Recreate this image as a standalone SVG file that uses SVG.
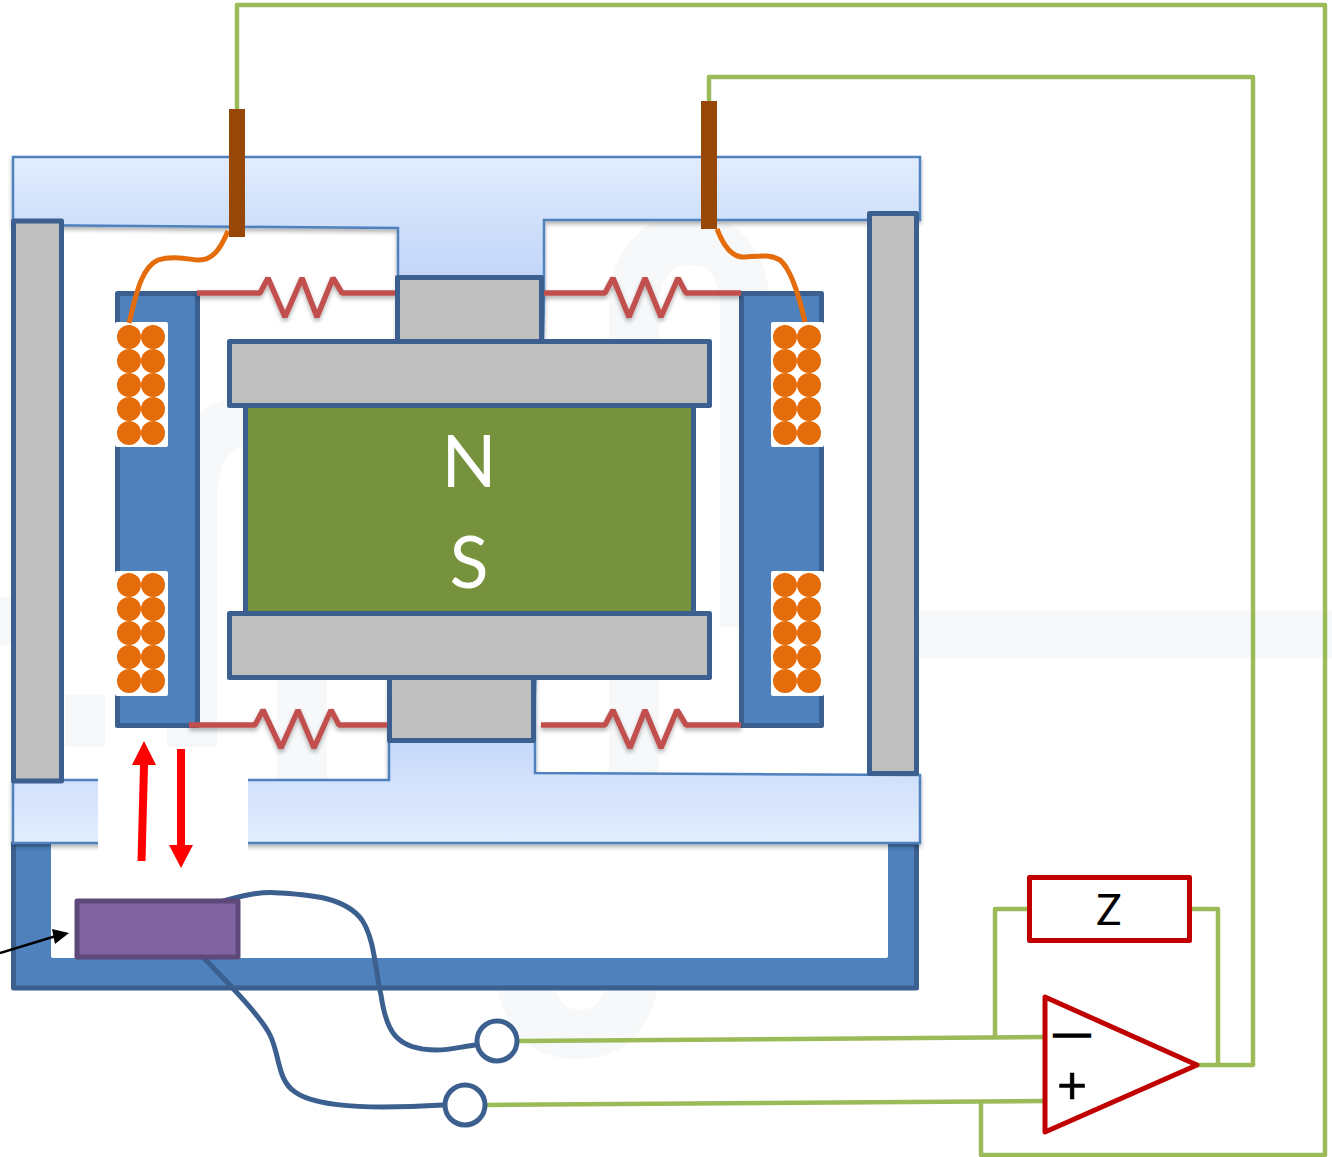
<svg xmlns="http://www.w3.org/2000/svg" width="1332" height="1157" viewBox="0 0 1332 1157">
<style>
.wm{fill:none;stroke:#f6f8fa;stroke-width:50}
.steel{fill:#bfbfbf;stroke:#3b5f8e;stroke-width:5;stroke-linejoin:round}
.pole{fill:#4f81bd;stroke:#3b5f8e;stroke-width:5;stroke-linejoin:round}
.res{fill:none;stroke:#c0504d;stroke-width:5.500;stroke-linejoin:bevel;filter:url(#sh)}
.coil{fill:#e46c0a}
.green{fill:none;stroke:#9bbb59;stroke-width:4.500;stroke-linejoin:round}
.wire{fill:none;stroke:#e46c0a;stroke-width:5}
.bwire{fill:none;stroke:#3b5f8e;stroke-width:5}
.red{fill:#fff;stroke:#c00000;stroke-width:5;stroke-linejoin:round}
.term{fill:#fff;stroke:#3b5f8e;stroke-width:5}
.t{font-family:Lato,"Open Sans",sans-serif;text-anchor:middle}
</style>
<defs>
<filter id="sh" x="-10%" y="-10%" width="120%" height="130%"><feDropShadow dx="0" dy="3" stdDeviation="2" flood-color="#000" flood-opacity="0.3"/></filter>
<linearGradient id="fr" gradientUnits="userSpaceOnUse" x1="0" y1="157" x2="0" y2="843">
<stop offset="0" stop-color="#e2edfe"/><stop offset="0.09" stop-color="#d0e0fb"/><stop offset="0.18" stop-color="#c2d6fb"/><stop offset="0.85" stop-color="#c5d8fb"/><stop offset="0.91" stop-color="#d2e1fb"/><stop offset="1" stop-color="#e2edfe"/>
</linearGradient>
<g id="coilset"><circle class="coil" cx="0" cy="0" r="12"/><circle class="coil" cx="24" cy="0" r="12"/><circle class="coil" cx="0" cy="24" r="12"/><circle class="coil" cx="24" cy="24" r="12"/><circle class="coil" cx="0" cy="48" r="12"/><circle class="coil" cx="24" cy="48" r="12"/><circle class="coil" cx="0" cy="72" r="12"/><circle class="coil" cx="24" cy="72" r="12"/><circle class="coil" cx="0" cy="96" r="12"/><circle class="coil" cx="24" cy="96" r="12"/></g>
</defs>
<rect width="1332" height="1157" fill="#fff"/>
<g id="watermark">
<rect x="0" y="597" width="14" height="49" fill="#f6f8fa"/>
<rect x="917" y="610" width="415" height="48" fill="#f6f8fa"/>
<path class="wm" d="M634 773V310C634 265 655 240 690 240C725 240 745 265 745 310V627"/>
<path class="wm" d="M192 748V500C192 450 215 420 252 420C280 420 302 450 302 500V780"/>
<rect x="65" y="695" width="40" height="52" fill="#f6f8fa"/>
<path fill="#f6f8fa" fill-rule="evenodd" d="M497 985C505 1035 535 1059 578 1059C620 1059 650 1035 658 985ZM552 985C560 1003 568 1010 580 1010C592 1010 600 1003 607 985Z"/>
</g>
<g id="base">
<rect class="pole" x="13.500" y="843" width="903" height="145"/>
<rect x="51" y="835" width="837" height="123" rx="2" fill="#fff"/>
</g>
<g id="frame">
<polygon points="13,157 920,157 920,220 544,220 544,300 535,700 535,773 920,775 920,843 13,843 13,780 389,780 389,700 398,300 398,228 13,225" fill="url(#fr)" stroke="#4f81bd" stroke-width="2.500" filter="url(#sh)"/>
</g>
<rect id="arrow-backing" x="98" y="747" width="150" height="113" fill="#fff"/>
<g id="left-bar"><rect class="steel" x="13.500" y="221" width="48" height="560"/></g>
<g id="right-bar"><rect class="steel" x="869.500" y="213.500" width="47" height="560"/></g>
<g id="left-pole">
<rect class="pole" x="117.500" y="293.500" width="80" height="432"/>
<rect x="115" y="322" width="53" height="125" rx="2" fill="#fff"/>
<rect x="115" y="571" width="53" height="125" rx="2" fill="#fff"/>
<use href="#coilset" x="129" y="337"/>
<use href="#coilset" x="129" y="585"/>
</g>
<g id="right-pole">
<rect class="pole" x="741.500" y="293.500" width="80" height="432"/>
<rect x="771" y="322" width="53" height="125" rx="2" fill="#fff"/>
<rect x="771" y="571" width="53" height="125" rx="2" fill="#fff"/>
<use href="#coilset" x="785" y="337"/>
<use href="#coilset" x="785" y="585"/>
</g>
<g id="connectors">
<polyline class="res" points="197,293 260,293 268,278 285,317 302,278 317,317 333,278 342,293 396,293"/>
<polyline class="res" points="544,293 605,293 613,278 629,317 645,278 661,317 678,278 686,293 741,293"/>
<polyline class="res" points="189,725 255,725 263,710 281,748 298,710 314,748 331,710 339,725 388,725"/>
<polyline class="res" points="541,725 605,725 613,710 630,748 645,710 661,748 677,710 686,725 741,725"/>
<path class="wire" d="M228 231C220 250 212 261 197 260C182 258 170 256 158 260C140 268 135 300 129 323"/>
<path class="wire" d="M717 229C725 250 735 258 745 257C760 256 770 254 780 260C792 270 800 300 805 322"/>
<polyline class="green" points="237,109 237,5 1325,5 1325,1155 981,1155 981,1101"/>
<polyline class="green" points="709,101 709,77 1253,77 1253,1065 1197,1065"/>
<polyline class="green" points="1029,909 995,909 995,1037"/>
<polyline class="green" points="1190,909 1218,909 1218,1065"/>
<line class="green" x1="518" y1="1041" x2="1045" y2="1037"/>
<line class="green" x1="486" y1="1105" x2="1045" y2="1101"/>
<path class="bwire" d="M220 902C240 896 260 891 280 893C310 895 345 897 362 920C375 940 375 970 381 995C386 1030 395 1050 437 1050C450 1050 465 1046 476 1045"/>
<path class="bwire" d="M203 957C225 980 260 1015 270 1035C280 1055 277 1080 295 1092C320 1110 390 1108 444 1105"/>
<line x1="0" y1="953" x2="56" y2="936" stroke="#000" stroke-width="2.500"/>
<polygon points="69,933 52,929 55,944" fill="#000"/>
<polygon points="137.500,861 145.500,861 148,765 156,765 144,741 132,765 140,765" fill="#f00"/>
<polygon points="177,749 185,749 185,845 193,845 181,868 169,845 177,845" fill="#f00"/>
</g>
<g id="brush-left"><rect x="229" y="109" width="16" height="128" fill="#974806"/></g>
<g id="brush-right"><rect x="701" y="101" width="16" height="128" fill="#974806"/></g>
<g id="top-post"><rect class="steel" x="397.500" y="277.500" width="144" height="64"/></g>
<g id="bottom-post"><rect class="steel" x="389.500" y="677" width="144" height="63.500"/></g>
<g id="magnet">
<rect x="245.500" y="404" width="448" height="210" fill="#76923c" stroke="#3b5f8e" stroke-width="5"/>
<text class="t" x="469" y="487" font-size="72" fill="#fff">N</text>
<text class="t" x="469" y="588" font-size="72" fill="#fff">S</text>
</g>
<g id="top-plate"><rect class="steel" x="229.500" y="341.500" width="480" height="64"/></g>
<g id="bottom-plate"><rect class="steel" x="229.500" y="613.500" width="480" height="64"/></g>
<g id="sensor"><rect x="77" y="901" width="161" height="56" fill="#8064a2" stroke="#5f497a" stroke-width="5" stroke-linejoin="round"/></g>
<g id="terminal-a"><circle class="term" cx="497" cy="1041" r="20"/></g>
<g id="terminal-b"><circle class="term" cx="465" cy="1105" r="20"/></g>
<g id="impedance"><rect class="red" x="1029.500" y="877.500" width="160" height="63"/><text class="t" x="1109" y="925" font-size="42" fill="#000">Z</text></g>
<g id="opamp"><polygon class="red" points="1045,997 1197,1065 1045,1132"/>
<text class="t" x="1072" y="1045" font-size="26" font-weight="900" fill="#000" stroke="#000" stroke-width="1.500" textLength="44" lengthAdjust="spacingAndGlyphs">−</text>
<text class="t" x="1072" y="1104" font-size="52" fill="#000" stroke="#000" stroke-width="0.600">+</text></g>
</svg>
